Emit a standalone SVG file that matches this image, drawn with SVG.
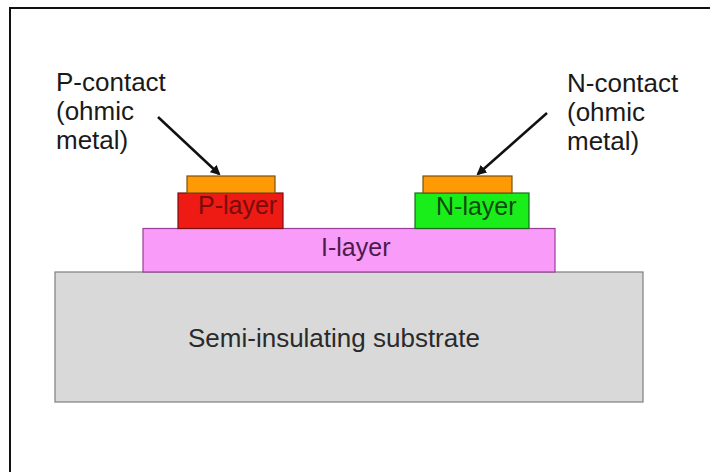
<svg xmlns="http://www.w3.org/2000/svg" width="710" height="472" viewBox="0 0 710 472">
<style>
text{font-family:"Liberation Sans",Arial,sans-serif;font-size:25px}
.lbl{fill:#1a1a1a;font-size:26px}
.conn{stroke:#111;stroke-width:2.5;fill:none}
</style>
<defs>
<marker id="ah" markerWidth="10" markerHeight="10" refX="8" refY="5" orient="auto" markerUnits="userSpaceOnUse" viewBox="0 0 10 10">
<path d="M0,0 L10,5 L0,10 z" fill="#111"/>
</marker>
</defs>
<rect width="710" height="472" fill="#fff"/>
<path d="M10,472 V8 H710" fill="none" stroke="#111" stroke-width="2"/>
<g id="substrate">
<rect x="55" y="272" width="588" height="130" fill="#d9d9d9" stroke="#7f7f7f" stroke-width="1.2"/>
<text x="188" y="347" style="font-size:26px" fill="#2a2a2a">Semi-insulating substrate</text>
</g>
<g id="i-layer">
<rect x="143" y="228.5" width="412" height="43.5" fill="#f99cf9" stroke="#9a3d9a" stroke-width="1.2"/>
<text x="321" y="256" fill="#4d1a4d">I-layer</text>
</g>
<g id="p-layer">
<rect x="178" y="193" width="105" height="35.5" fill="#ee1a14" stroke="#7a1010" stroke-width="1.2"/>
<text x="198" y="214" fill="#7a0c0c">P-layer</text>
</g>
<g id="p-contact">
<rect x="187" y="176" width="88" height="17" fill="#ff9a05" stroke="#7a5010" stroke-width="1.2"/>
</g>
<g id="n-layer">
<rect x="415" y="193" width="114" height="35.5" fill="#1aee1a" stroke="#1a6a1a" stroke-width="1.2"/>
<text x="436" y="215" fill="#124a12">N-layer</text>
</g>
<g id="n-contact">
<rect x="423" y="176" width="89" height="17" fill="#ff9a05" stroke="#7a5010" stroke-width="1.2"/>
</g>
<g id="p-label">
<text class="lbl" x="56" y="91">P-contact</text>
<text class="lbl" x="56" y="120">(ohmic</text>
<text class="lbl" x="56" y="149">metal)</text>
</g>
<g id="n-label">
<text class="lbl" x="567" y="92">N-contact</text>
<text class="lbl" x="567" y="121">(ohmic</text>
<text class="lbl" x="567" y="150">metal)</text>
</g>
<g id="connectors">
<line class="conn" x1="158" y1="117" x2="219" y2="174" marker-end="url(#ah)"/>
<line class="conn" x1="547" y1="113" x2="478" y2="174" marker-end="url(#ah)"/>
</g>
</svg>
